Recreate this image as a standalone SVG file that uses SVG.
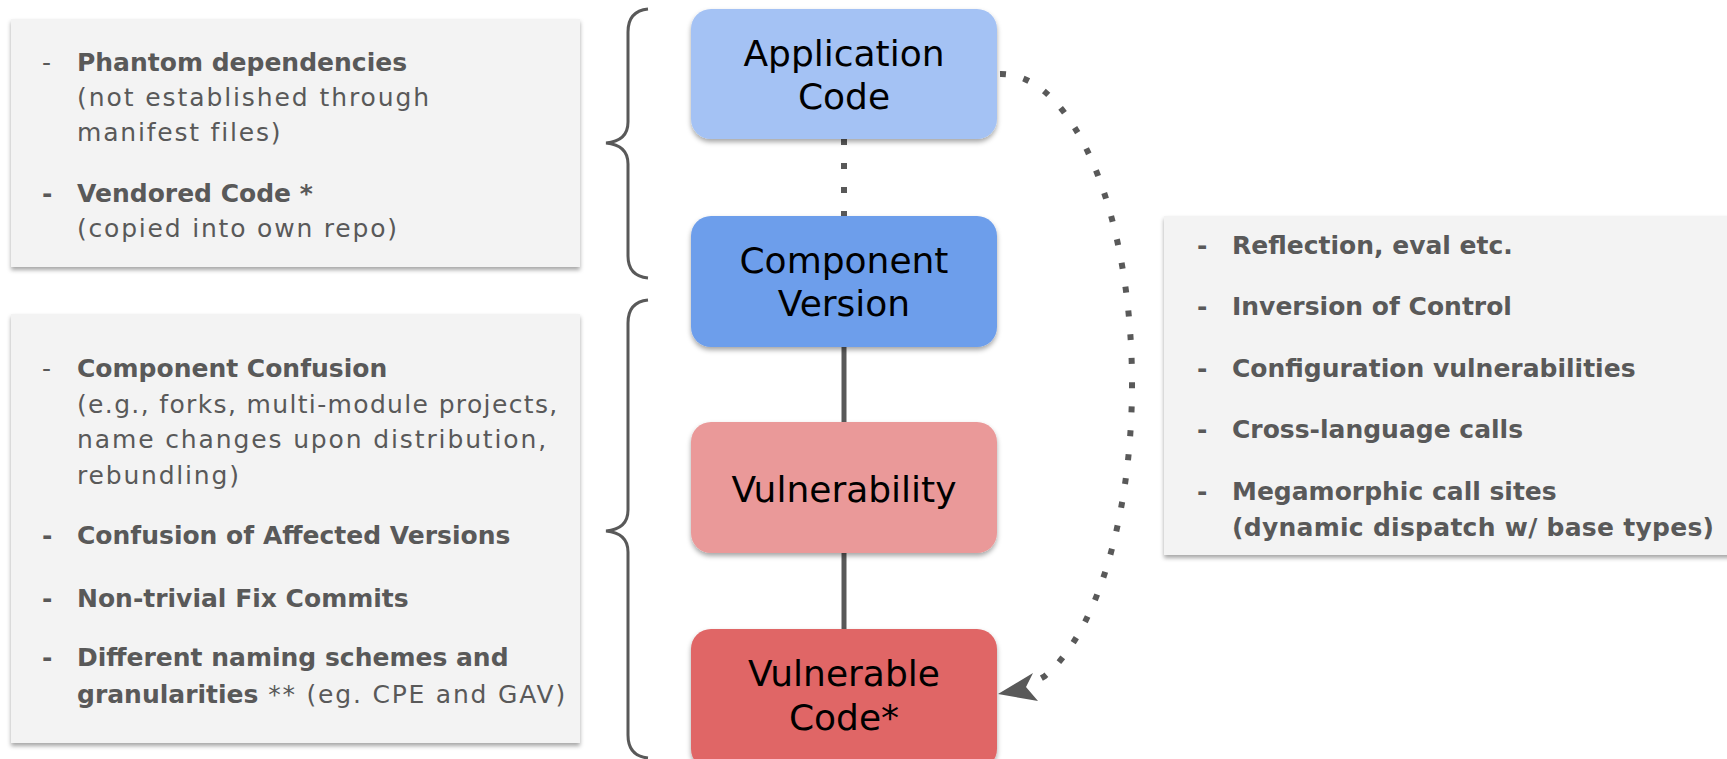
<svg xmlns="http://www.w3.org/2000/svg" width="1727" height="759" viewBox="0 0 1727 759">
<style>
.panel{fill:#f3f3f3;filter:url(#sh)}
.node rect{filter:url(#shn)}
.lbl{font-family:"DejaVu Sans","Liberation Sans",sans-serif;font-size:36px;fill:#000;text-anchor:middle}
.b{font-family:"DejaVu Sans","Liberation Sans",sans-serif;font-size:25px;font-weight:bold;fill:#595959}
.r{font-family:"DejaVu Sans","Liberation Sans",sans-serif;font-size:25px;font-weight:normal;letter-spacing:1.8px;fill:#595959}
.brace{fill:none;stroke:#595959;stroke-width:3}
.solid{stroke:#595959;stroke-width:5;fill:none}
.dot{stroke:#595959;stroke-width:6;fill:none;stroke-dasharray:6 18}
</style>
<defs>
<filter id="sh" x="-5%" y="-5%" width="110%" height="115%">
<feDropShadow dx="0" dy="3" stdDeviation="2" flood-color="#000" flood-opacity="0.35"/>
</filter>
<filter id="shn" x="-5%" y="-5%" width="110%" height="120%">
<feDropShadow dx="0" dy="3" stdDeviation="2.5" flood-color="#000" flood-opacity="0.35"/>
</filter>
</defs>
<rect width="1727" height="759" fill="#ffffff"/>

<g id="panel-top">
<rect class="panel" x="11" y="19" width="569" height="248"/>
<text class="r" x="42" y="71">-</text>
<text class="b" x="77" y="71">Phantom dependencies</text>
<text class="r" x="77" y="106" textLength="354" lengthAdjust="spacing">(not established through</text>
<text class="r" x="77" y="141">manifest files)</text>
<text class="b" x="42" y="202">-</text>
<text class="b" x="77" y="202">Vendored Code *</text>
<text class="r" x="77" y="237">(copied into own repo)</text>
</g>

<g id="panel-bottom">
<rect class="panel" x="11" y="314" width="569" height="429"/>
<text class="r" x="42" y="377">-</text>
<text class="b" x="77" y="377">Component Confusion</text>
<text class="r" x="77" y="413" textLength="482" lengthAdjust="spacing">(e.g., forks, multi-module projects,</text>
<text class="r" x="77" y="448" textLength="471" lengthAdjust="spacing">name changes upon distribution,</text>
<text class="r" x="77" y="484">rebundling)</text>
<text class="b" x="42" y="544">-</text>
<text class="b" x="77" y="544">Confusion of Affected Versions</text>
<text class="b" x="42" y="607">-</text>
<text class="b" x="77" y="607">Non-trivial Fix Commits</text>
<text class="b" x="42" y="666">-</text>
<text class="b" x="77" y="666">Different naming schemes and</text>
<text class="b" x="77" y="703">granularities<tspan class="r"> ** (eg. CPE and GAV)</tspan></text>
</g>

<g id="panel-right">
<rect class="panel" x="1164" y="216" width="580" height="339"/>
<text class="b" x="1197" y="254">-</text>
<text class="b" x="1232" y="254">Reflection, eval etc.</text>
<text class="b" x="1197" y="315">-</text>
<text class="b" x="1232" y="315">Inversion of Control</text>
<text class="b" x="1197" y="377">-</text>
<text class="b" x="1232" y="377">Configuration vulnerabilities</text>
<text class="b" x="1197" y="438">-</text>
<text class="b" x="1232" y="438">Cross-language calls</text>
<text class="b" x="1197" y="500">-</text>
<text class="b" x="1232" y="500">Megamorphic call sites</text>
<text class="b" x="1232" y="536" textLength="482" lengthAdjust="spacing">(dynamic dispatch w/ base types)</text>
</g>

<g id="braces">
<path class="brace" d="M648 9 Q628 11 628 32 L628 122 Q628 141 606 143 Q628 145 628 164 L628 256 Q628 276 648 278"/>
<path class="brace" d="M648 300 Q628 302 628 323 L628 510 Q628 529 606 531 Q628 533 628 552 L628 735 Q628 756 648 758"/>
</g>

<g id="connectors">
<line class="dot" x1="844" y1="139" x2="844" y2="216"/>
<line class="solid" x1="844" y1="347" x2="844" y2="422"/>
<line class="solid" x1="844" y1="553" x2="844" y2="629"/>
<path class="dot" d="M1000 74 A131 310 0 0 1 1045 676 L1027 686"/>
<path d="M998 694 L1033 673 L1026 687 L1038 701 Z" fill="#595959"/>
</g>

<g id="node-app" class="node">
<rect x="691" y="9" width="306" height="130" rx="20" fill="#a4c2f4"/>
<text class="lbl" x="844" y="66">Application</text>
<text class="lbl" x="844" y="109">Code</text>
</g>
<g id="node-component" class="node">
<rect x="691" y="216" width="306" height="131" rx="20" fill="#6d9eeb"/>
<text class="lbl" x="844" y="273">Component</text>
<text class="lbl" x="844" y="316">Version</text>
</g>
<g id="node-vuln" class="node">
<rect x="691" y="422" width="306" height="131" rx="20" fill="#ea9999"/>
<text class="lbl" x="844" y="502">Vulnerability</text>
</g>
<g id="node-vulncode" class="node">
<rect x="691" y="629" width="306" height="140" rx="20" fill="#e06666"/>
<text class="lbl" x="844" y="686">Vulnerable</text>
<text class="lbl" x="844" y="730">Code*</text>
</g>
</svg>
